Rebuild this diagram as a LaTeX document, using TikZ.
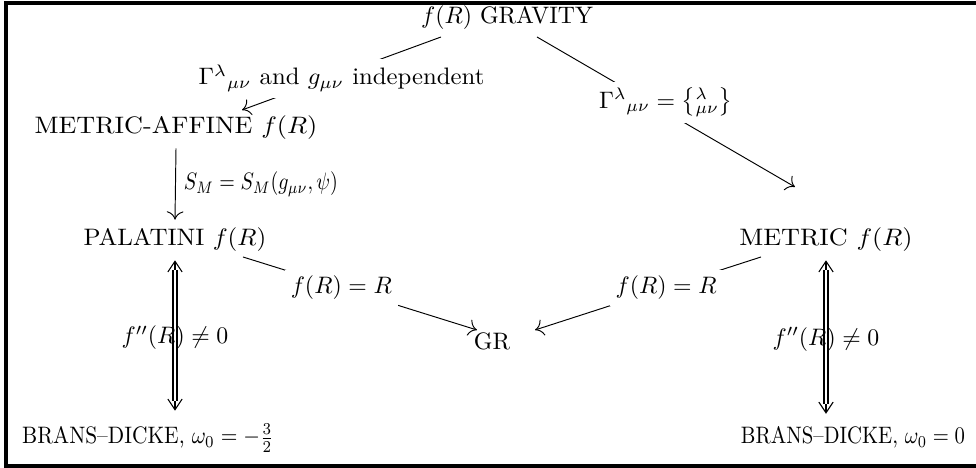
\documentclass[tikz,border=0pt]{standalone}
\usepackage{amsmath,amssymb,graphicx}
\usetikzlibrary{calc,arrows.meta}

\begin{document}
\begin{tikzpicture}[x=0.42pt,y=-0.42pt,>={Computer Modern Rightarrow[length=3.5pt,width=7pt]},
  lab/.style={fill=white,inner sep=2.5pt},
  trbody/.style={double distance=0.9pt,line width=0.85pt,shorten >=6pt,shorten <=4pt},
  trhead/.style={line width=0.45pt,shorten >=2pt,{Straight Barb[length=4.5pt,width=6pt]}-{Straight Barb[length=4.5pt,width=6pt]}}]
  % frame
  \useasboundingbox (0,0) rectangle (976,468);
  \draw[line width=1.3pt] (976,3) -- (6,3) -- (6,466) -- (976,466);
  % theories
  \node (grav) at (507,18) {$f(R)$ GRAVITY};
  \node (ma)   at (176,128) {\scalebox{1.1}[1]{METRIC-AFFINE $f(R)$}};
  \node (pal)  at (175,240) {\scalebox{1.05}[1]{PALATINI $f(R)$}};
  \node (met)  at (826,240) {\scalebox{1.1}[1]{METRIC $f(R)$}};
  \node (gr)   at (492,341) {GR};
  \node[anchor=base] (bdl) at (148,444) {\scalebox{0.9}[1]{BRANS--DICKE, $\omega_0=-\frac{3}{2}$}};
  \node[anchor=base] (bdr) at (853,444) {\scalebox{0.87}[1]{BRANS--DICKE, $\omega_0=0$}};
  % single arrows with labels
  \draw[->] ($(grav)+(-66,19)$) -- ($(ma)+(66,-18)$)
    node[midway,lab,yshift=-2pt] {\scalebox{1.04}[1]{${\Gamma^\lambda}_{\mu\nu}$ and $g_{\mu\nu}$ independent}};
  \draw[->] ($(grav)+(30,19)$) -- ($(met)+(-31,-53)$)
    node[midway,lab,yshift=4pt] {${\Gamma^\lambda}_{\mu\nu}=\left\{{}^{\lambda}_{\mu\nu}\right\}$};
  \draw[->] (ma.south) -- (pal.north)
    node[midway,right] {\scalebox{0.84}[1]{$S_M=S_M(g_{\mu\nu},\psi)$}};
  \draw[->] ($(pal)+(68,17)$) -- ($(gr)+(-15,-11)$)
    node[pos=0.42,lab] {$f(R)=R$};
  \draw[->] ($(met)+(-65,17)$) -- ($(gr)+(43,-11)$)
    node[pos=0.42,lab] {$f(R)=R$};
  % equivalences
  \foreach \top/\bot in {pal/bdl,met/bdr} {
    \draw[trhead] (\top.south) -- (\top.south |- \bot.north);
    \draw[trbody] (\top.south) -- (\top.south |- \bot.north)
      node[midway] {$f''(R)\neq0$};
  }
\end{tikzpicture}
\end{document}
